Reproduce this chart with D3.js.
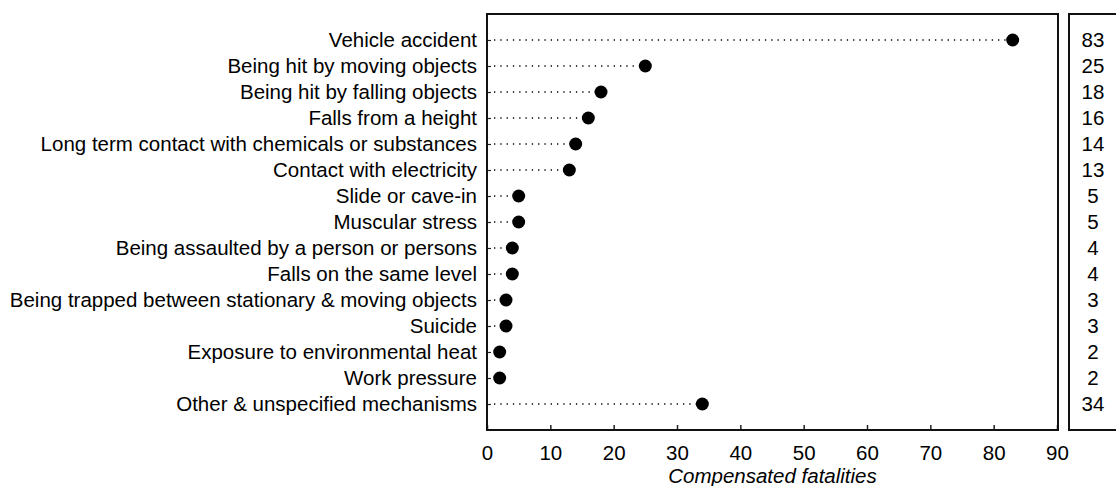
<!DOCTYPE html>
<html>
<head>
<meta charset="utf-8">
<script src="https://cdn.jsdelivr.net/npm/d3@7"></script>
<style>
  body { margin: 0; background: #fff; }
  svg { display: block; font-family: "Liberation Sans", Arial, sans-serif; }
</style>
</head>
<body>
<svg id="chart" width="1116" height="486"></svg>
<script>
  "use strict";

  var mechanisms = [
    "Vehicle accident",
    "Being hit by moving objects",
    "Being hit by falling objects",
    "Falls from a height",
    "Long term contact with chemicals or substances",
    "Contact with electricity",
    "Slide or cave-in",
    "Muscular stress",
    "Being assaulted by a person or persons",
    "Falls on the same level",
    "Being trapped between stationary & moving objects",
    "Suicide",
    "Exposure to environmental heat",
    "Work pressure",
    "Other & unspecified mechanisms"
  ];
  var fatalities = [83, 25, 18, 16, 14, 13, 5, 5, 4, 4, 3, 3, 2, 2, 34];
  var xTicks = [0, 10, 20, 30, 40, 50, 60, 70, 80, 90];
  var xTitle = "Compensated fatalities";

  var rows = mechanisms.map(function (m, i) {
    return { name: m, value: fatalities[i] };
  });

  var svg = d3.select("#chart");
  var fontSize = 20.5;

  var plot = { left: 487, right: 1058, top: 14, bottom: 430 };
  var side = { left: 1069, right: 1120 };

  var x = d3.scaleLinear().domain([0, 90]).range([plot.left, plot.right - 1]);
  var y = d3.scalePoint().domain(mechanisms).range([plot.top, plot.bottom]).padding(1);

  // dotted leaders
  svg.append("g").selectAll("line").data(rows).enter().append("line")
    .attr("x1", plot.left + 7)
    .attr("x2", function (d) { return x(d.value); })
    .attr("y1", function (d) { return y(d.name); })
    .attr("y2", function (d) { return y(d.name); })
    .attr("stroke", "#000")
    .attr("stroke-width", 1.3)
    .attr("stroke-dasharray", "1.3,5");

  // dots
  svg.append("g").selectAll("circle").data(rows).enter().append("circle")
    .attr("cx", function (d) { return x(d.value); })
    .attr("cy", function (d) { return y(d.name); })
    .attr("r", 6.5)
    .attr("fill", "#000");

  // bottom axis, ticks inward
  var xAxis = svg.append("g")
    .attr("transform", "translate(0," + plot.bottom + ")")
    .call(d3.axisBottom(x).tickValues(xTicks).tickSize(-5).tickPadding(15).tickFormat(d3.format("d")));
  xAxis.select(".domain").remove();
  xAxis.selectAll("line").attr("stroke-width", 1.5).attr("stroke", "#222");
  xAxis.selectAll("text").attr("font-size", fontSize).attr("fill", "#000")
    .attr("font-family", "Liberation Sans, Arial, sans-serif");

  // left axis, ticks inward
  var yAxis = svg.append("g")
    .attr("transform", "translate(" + plot.left + ",0)")
    .call(d3.axisLeft(y).tickSize(-4).tickPadding(10));
  yAxis.select(".domain").remove();
  yAxis.selectAll("line").attr("stroke-width", 1.2).attr("stroke", "#222");
  yAxis.selectAll("text").attr("font-size", fontSize).attr("fill", "#000")
    .attr("font-family", "Liberation Sans, Arial, sans-serif");

  // frame
  svg.append("rect")
    .attr("x", plot.left).attr("y", plot.top)
    .attr("width", plot.right - plot.left).attr("height", plot.bottom - plot.top)
    .attr("fill", "none").attr("stroke", "#111").attr("stroke-width", 2);

  // value column
  svg.append("rect")
    .attr("x", side.left).attr("y", plot.top)
    .attr("width", side.right - side.left).attr("height", plot.bottom - plot.top)
    .attr("fill", "none").attr("stroke", "#111").attr("stroke-width", 2);

  svg.append("g").selectAll("text").data(rows).enter().append("text")
    .attr("x", 1093)
    .attr("y", function (d) { return y(d.name); })
    .attr("dy", "0.35em")
    .attr("text-anchor", "middle")
    .attr("font-size", fontSize)
    .text(function (d) { return d.value; });

  // axis title
  svg.append("text")
    .attr("x", (plot.left + plot.right) / 2)
    .attr("y", 483)
    .attr("text-anchor", "middle")
    .attr("font-size", fontSize)
    .attr("font-style", "italic")
    .text(xTitle);
</script>
</body>
</html>
